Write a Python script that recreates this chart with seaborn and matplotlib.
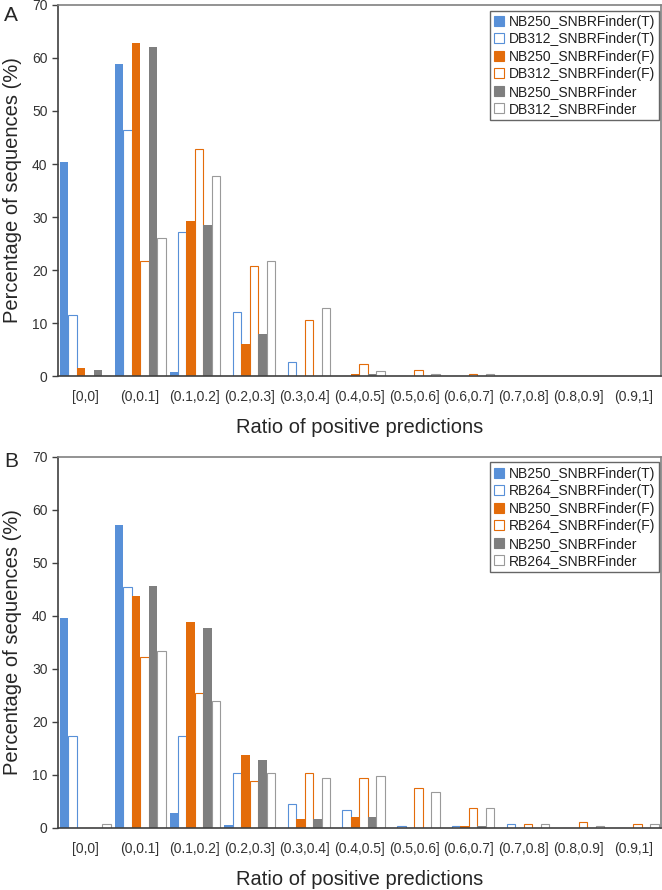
import matplotlib
matplotlib.use('Agg')
import matplotlib.pyplot as plt
from matplotlib.patches import Patch
import seaborn as sns
import pandas as pd

bins = ['[0,0]', '(0,0.1]', '(0.1,0.2]', '(0.2,0.3]', '(0.3,0.4]', '(0.4,0.5]',
        '(0.5,0.6]', '(0.6,0.7]', '(0.7,0.8]', '(0.8,0.9]', '(0.9,1]']

series_a = ['NB250_SNBRFinder(T)', 'DB312_SNBRFinder(T)', 'NB250_SNBRFinder(F)',
            'DB312_SNBRFinder(F)', 'NB250_SNBRFinder', 'DB312_SNBRFinder']
series_b = ['NB250_SNBRFinder(T)', 'RB264_SNBRFinder(T)', 'NB250_SNBRFinder(F)',
            'RB264_SNBRFinder(F)', 'NB250_SNBRFinder', 'RB264_SNBRFinder']

# panel A values (%)
a_nb_t = [40.4, 58.8, 0.8, 0, 0, 0, 0, 0, 0, 0, 0]
a_db_t = [11.5, 46.4, 27.2, 12.1, 2.6, 0, 0, 0, 0, 0, 0]
a_nb_f = [1.6, 62.8, 29.3, 6.0, 0, 0.4, 0, 0, 0, 0, 0]
a_db_f = [0, 21.7, 42.9, 20.8, 10.5, 2.2, 1.2, 0.3, 0, 0, 0]
a_nb = [1.2, 62.0, 28.4, 8.0, 0, 0.4, 0, 0, 0, 0, 0]
a_db = [0, 26.0, 37.8, 21.7, 12.8, 0.9, 0.3, 0.3, 0, 0, 0]

# panel B values (%)
b_nb_t = [39.7, 57.2, 2.9, 0.5, 0, 0, 0, 0, 0, 0, 0]
b_rb_t = [17.4, 45.5, 17.4, 10.3, 4.6, 3.4, 0.4, 0.4, 0.8, 0, 0]
b_nb_f = [0, 43.7, 38.9, 13.7, 1.6, 2.0, 0, 0.4, 0, 0, 0]
b_rb_f = [0, 32.2, 25.4, 8.8, 10.3, 9.4, 7.6, 3.8, 0.8, 1.1, 0.8]
b_nb = [0, 45.7, 37.7, 12.8, 1.6, 2.0, 0, 0.4, 0, 0, 0]
b_rb = [0.8, 33.4, 23.9, 10.3, 9.5, 9.8, 6.8, 3.8, 0.8, 0.4, 0.8]

BLUE = '#5890d8'
ORANGE = '#e36c0a'
GRAY = '#7f7f7f'
LGRAY = '#9a9a9a'
# (face, edge) per series
styles = [(BLUE, BLUE), ('white', BLUE), (ORANGE, ORANGE),
          ('white', ORANGE), (GRAY, GRAY), ('white', LGRAY)]

sns.set_style('white')
plt.rcParams['font.family'] = ['Liberation Sans', 'DejaVu Sans']


def to_long(names, cols):
    rows = []
    for name, vals in zip(names, cols):
        for b, v in zip(bins, vals):
            rows.append({'bin': b, 'series': name, 'value': v})
    return pd.DataFrame(rows)


def draw_panel(ax, names, cols):
    df = to_long(names, cols)
    sns.barplot(data=df, x='bin', y='value', hue='series', order=bins,
                hue_order=names, width=0.93, dodge=True, gap=0,
                errorbar=None, legend=False, ax=ax)
    for cont, (fc, ec) in zip(ax.containers, styles):
        for p in cont:
            p.set_facecolor(fc)
            p.set_edgecolor(ec)
            p.set_linewidth(0.8 if fc == 'white' else 0)
    ax.set_xlim(-0.5, 10.5)
    ax.set_ylim(0, 70)
    ax.set_yticks(range(0, 71, 10))
    ax.set_xticks(range(len(bins)))
    ax.set_xticklabels(bins)
    ax.set_xticks([i - 0.5 for i in range(len(bins) + 1)], minor=True)
    ax.tick_params(axis='x', which='major', length=0, pad=10, labelsize=10, colors='#333333')
    ax.tick_params(axis='x', which='minor', length=4, width=1, color='#404040', direction='out')
    ax.tick_params(axis='y', length=4, width=1, color='#404040', direction='out',
                   labelsize=10, labelcolor='#333333', left=True)
    for s in ['left', 'bottom']:
        ax.spines[s].set_color('#404040')
        ax.spines[s].set_linewidth(1.2)
    for s in ['top', 'right']:
        ax.spines[s].set_color('#808080')
        ax.spines[s].set_linewidth(1.2)
    for sp in ax.spines.values():
        sp.set_zorder(5)
    ax.set_xlabel('Ratio of positive predictions', fontsize=14.5, labelpad=10)
    ax.set_ylabel('Percentage of sequences (%)', fontsize=14.5, labelpad=7)
    handles = [Patch(facecolor=fc, edgecolor=ec, linewidth=0.8, label=n)
               for n, (fc, ec) in zip(names, styles)]
    leg = ax.legend(handles=handles, loc='upper right', bbox_to_anchor=(0.997, 0.985),
                    fontsize=10, frameon=True, fancybox=False, borderaxespad=0,
                    handlelength=0.75, handleheight=0.75, handletextpad=0.3,
                    labelspacing=0.25, borderpad=0.3)
    leg.get_frame().set_edgecolor('#404040')
    leg.get_frame().set_linewidth(1.0)
    for t in leg.get_texts():
        t.set_color('#202020')


fig = plt.figure(figsize=(6.62, 8.9), dpi=100)
ax_a = fig.add_axes([0.0876, 0.5775, 0.9105, 0.4169])
ax_b = fig.add_axes([0.0876, 0.0697, 0.9105, 0.4169])

draw_panel(ax_a, series_a, [a_nb_t, a_db_t, a_nb_f, a_db_f, a_nb, a_db])
draw_panel(ax_b, series_b, [b_nb_t, b_rb_t, b_nb_f, b_rb_f, b_nb, b_rb])

fig.text(0.006, 0.983, 'A', fontsize=15, va='center', ha='left')
fig.text(0.006, 0.481, 'B', fontsize=15, va='center', ha='left')

fig.savefig('out.png', dpi=100)
